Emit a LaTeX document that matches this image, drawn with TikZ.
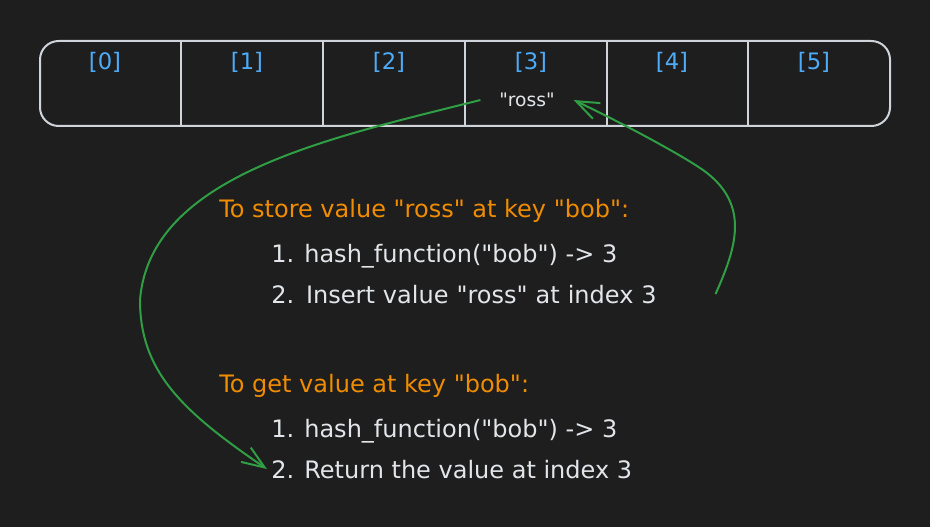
\documentclass[tikz,border=0pt]{standalone}
\usepackage{fontspec}
\setmainfont{DejaVu Sans}[Ligatures=TeXOff]
\usetikzlibrary{arrows.meta}
\newcommand{\dq}{\symbol{34}}
\definecolor{bg}{HTML}{1E1E1E}
\definecolor{strokecol}{HTML}{CED4DA}
\definecolor{idxcol}{HTML}{4DABF7}
\definecolor{orangecol}{HTML}{F08C00}
\definecolor{greencol}{HTML}{2F9E44}
\definecolor{textcol}{HTML}{E2E5E9}
\tikzset{
  arraybox/.style={draw=strokecol, line width=1.5pt, rounded corners=14pt, inner sep=0pt},
  divider/.style={draw=strokecol, line width=1.5pt},
  idxlabel/.style={text=idxcol, font=\fontsize{17}{19}\selectfont, inner sep=0pt},
  cellval/.style={text=textcol, font=\fontsize{14}{16}\selectfont, inner ysep=2pt, inner xsep=14pt},
  heading/.style={text=orangecol, font=\fontsize{18}{21}\selectfont, anchor=base west, inner ysep=0pt, inner xsep=3pt},
  stepline/.style={text=textcol, font=\fontsize{18}{21}\selectfont, anchor=base west, inner ysep=0pt, inner xsep=3pt},
  link/.style={draw=greencol, line width=1.5pt, -{Straight Barb[length=17pt,width=13pt]}}
}
\begin{document}
\begin{tikzpicture}[x=0.75pt,y=-0.75pt]
\fill[bg] (0,0) rectangle (930,527);
\useasboundingbox (0,0) rectangle (930,527);

% array
\node[arraybox, minimum width=850*0.75pt, minimum height=85*0.75pt] (arr) at (465,83.5) {};
\foreach \xx in {181,323,465,607,748}{
  \draw[divider] (\xx,41) -- (\xx,126);
}
\node[idxlabel] (i0) at (105,62) {[0]};
\node[idxlabel] (i1) at (247,62) {[1]};
\node[idxlabel] (i2) at (389,62) {[2]};
\node[idxlabel] (i3) at (531,62) {[3]};
\node[idxlabel] (i4) at (672,62) {[4]};
\node[idxlabel] (i5) at (814,62) {[5]};
\node[cellval] (ross) at (527,100) {\dq ross\dq};

% texts
\node[heading] (h1) at (215,217) {To store value \dq ross\dq\ at key \dq bob\dq :};
\node[stepline] (s11) at (267,262) {1. hash\_function(\dq bob\dq ) -> 3};
\node[stepline, text width=440*0.75pt, align=left] (s12) at (267,303) {2. Insert value \dq ross\dq\ at index 3};
\node[heading] (h2) at (215,392) {To get value at key \dq bob\dq :};
\node[stepline] (s21) at (267,437) {1. hash\_function(\dq bob\dq ) -> 3};
\node[stepline] (s22) at (267,478) {2. Return the value at index 3};

% arrows
\draw[link] (ross.west) .. controls (330,138) and (150,175) .. (140,300)
  .. controls (140,370) and (180,410) .. (s22.west);
\draw[link] (s12.east) .. controls (735,250) and (752,205) .. (703,170)
  .. controls (680,154) and (620,122) .. (ross.east);
\end{tikzpicture}
\end{document}
